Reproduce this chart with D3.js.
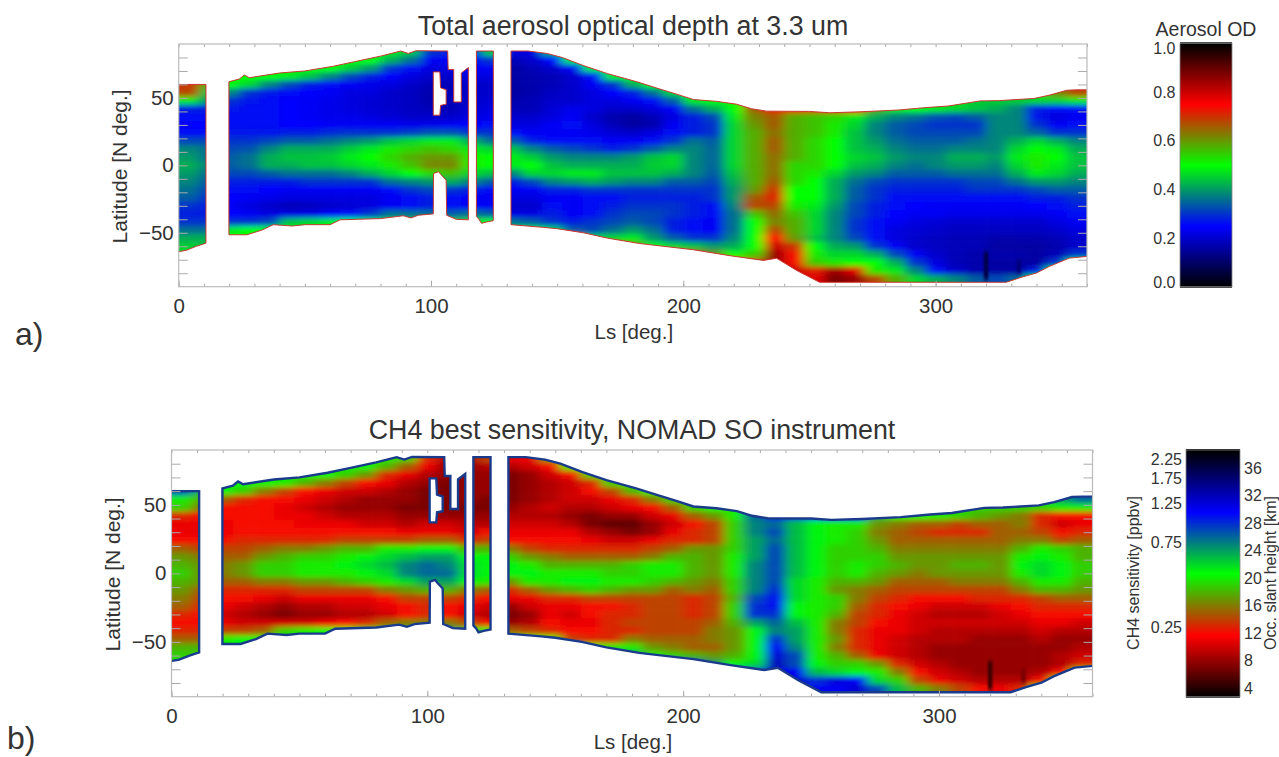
<!DOCTYPE html>
<html>
<head>
<meta charset="utf-8">
<style>
  body { margin: 0; background: #fff; }
  text { font-family: "Liberation Sans", Arial, sans-serif; fill: #333; }
</style>
<script src="https://cdn.jsdelivr.net/npm/d3@7"></script>
</head>
<body>
<svg id="chart" width="1279" height="757"></svg>
<script>
// grid centres
var lsCentres = [4,12,20,28,36, 44,52,60,68,76, 84,92,100,108,116, 124,132,140,148,156, 164,172,180,188,196, 204,212,220,228,236, 244,252,260,268,276, 284,292,300,308,316, 324,332,340,348,356];
var latCentres = [84,78,72,66,60,54,48,42,36,30,24,18,12,6,0,-6,-12,-18,-24,-30,-36,-42,-48,-54,-60,-66,-72,-78,-84];

// aerosol optical depth x 100, one row per latitude
var aerosolOD = [
  [70,60,50,50,50, 50,50,50,50,50, 48,44,30,28,28, 45,22,22,42,48, 50,50,50,50,50, 50,50,52,68,76, 76,78,78,76,60, 52,50,48,48,45, 45,45,52,65,70],
  [70,60,50,50,50, 50,50,50,50,50, 42,36,24,24,26, 30,18,20,25,48, 50,50,50,50,50, 50,50,52,68,76, 76,78,78,76,60, 52,50,48,48,45, 45,45,52,65,70],
  [70,60,50,50,50, 50,50,50,45,40, 30,26,22,22,24, 24,16,18,20,24, 48,50,50,50,50, 50,50,52,68,76, 76,78,78,76,60, 52,50,48,48,45, 45,45,52,65,70],
  [70,60,50,50,50, 48,44,38,32,28, 25,22,20,20,22, 22,16,17,18,20, 26,48,50,50,50, 50,50,52,68,76, 76,78,78,76,60, 52,50,48,48,45, 45,45,52,65,70],
  [70,58,50,46,38, 32,28,26,24,23, 22,20,18,18,20, 20,16,17,18,20, 24,30,42,50,50, 50,50,52,68,76, 76,78,78,76,60, 52,50,48,48,45, 45,45,52,65,70],
  [68,44,38,30,27, 26,25,24,22,22, 20,19,17,18,20, 20,16,17,19,20, 22,25,28,36,46, 50,50,52,68,76, 76,78,78,76,60, 52,50,48,48,45, 45,45,50,62,68],
  [48,40,30,27,26, 25,24,23,22,21, 20,19,17,18,20, 21,17,18,20,20, 22,22,24,26,34, 48,50,52,68,76, 76,78,78,76,60, 52,50,48,48,45, 45,45,46,46,48],
  [28,28,27,26,26, 25,24,23,22,21, 20,19,18,18,21, 22,18,18,21,23, 22,20,20,22,24, 36,42,50,66,76, 76,78,78,76,58, 52,50,48,46,44, 42,38,28,26,26],
  [26,26,26,26,26, 25,24,23,23,22, 21,20,20,20,22, 23,20,20,22,24, 20,17,16,18,22, 28,32,48,62,66, 58,56,54,48,42, 38,36,33,32,34, 38,38,27,22,24],
  [25,25,26,26,26, 25,25,24,24,24, 24,23,23,24,25, 26,22,22,24,26, 22,18,16,17,24, 28,30,46,60,66, 58,56,52,46,38, 34,32,30,30,30, 38,38,30,24,26],
  [26,26,27,27,27, 28,28,29,30,30, 30,31,33,33,30, 30,26,24,24,24, 23,21,20,22,26, 28,30,46,58,64, 58,56,52,44,38, 34,32,32,32,32, 38,38,35,30,30],
  [32,32,30,30,32, 34,34,36,38,40, 44,46,48,48,42, 36,34,28,26,26, 26,24,24,26,30, 36,34,46,58,66, 58,54,50,44,40, 36,34,34,34,36, 38,42,46,42,38],
  [38,36,32,33,38, 42,42,42,45,48, 52,54,56,54,48, 46,44,38,34,32, 30,28,30,34,38, 38,35,46,58,66, 58,54,50,44,42, 38,36,36,38,38, 38,46,50,48,42],
  [40,36,34,36,42, 44,44,45,48,50, 54,58,60,60,52, 50,48,45,40,38, 38,38,40,44,46, 38,35,46,58,64, 58,54,50,46,44, 40,38,38,42,42, 40,48,52,50,44],
  [42,38,34,36,42, 42,44,44,46,48, 52,56,62,62,52, 50,48,50,44,42, 42,42,42,45,46, 38,35,46,58,64, 54,54,50,44,42, 38,36,38,40,40, 38,46,52,48,44],
  [40,36,32,32,34, 36,36,36,38,42, 46,50,54,56,46, 44,38,46,46,48, 48,44,44,44,42, 38,34,44,58,64, 54,52,46,40,38, 34,34,34,36,36, 36,42,48,46,42],
  [38,34,28,28,28, 28,30,30,30,30, 36,38,40,42,38, 34,28,32,38,40, 42,40,38,38,34, 34,32,42,58,66, 54,50,42,36,32, 30,30,30,30,32, 32,36,40,40,38],
  [36,32,26,26,25, 24,24,24,24,24, 26,30,32,30,28, 26,24,24,28,28, 30,30,30,30,30, 30,30,40,60,70, 50,50,42,34,30, 28,28,28,28,30, 30,30,32,34,34],
  [34,30,25,24,23, 22,22,22,22,22, 24,26,28,26,24, 24,22,22,24,24, 26,26,28,28,28, 28,30,40,66,72, 50,50,42,34,30, 26,26,26,26,26, 26,26,28,28,30],
  [30,28,24,22,20, 18,19,20,21,22, 24,26,28,26,24, 24,20,20,26,24, 26,28,30,30,30, 28,26,38,68,68, 52,48,40,32,28, 26,25,24,24,24, 24,24,25,26,28],
  [28,28,25,24,22, 22,22,24,26,30, 36,36,36,34,36, 34,22,22,28,24, 26,30,32,32,30, 28,26,36,56,64, 56,46,38,32,28, 25,24,24,23,23, 23,23,23,24,26],
  [30,30,30,30,32, 44,46,48,50,52, 54,56,58,55,54, 50,36,34,30,28, 30,32,34,32,28, 26,24,36,50,62, 58,46,38,30,26, 24,22,21,20,20, 20,20,20,22,24],
  [36,36,48,50,50, 50,50,50,52,52, 54,56,58,55,54, 52,52,52,46,34, 32,36,40,36,28, 26,24,36,50,68, 58,46,38,30,26, 22,21,20,19,19, 19,19,19,20,22],
  [42,42,50,50,50, 50,50,50,52,52, 54,56,58,55,54, 52,52,55,64,70, 46,46,48,40,34, 30,30,38,50,75, 60,44,38,32,26, 22,20,19,18,18, 17,17,17,18,20],
  [45,44,50,50,50, 50,50,50,52,52, 54,56,58,55,54, 52,52,55,64,72, 70,68,60,50,46, 44,40,42,50,80, 70,50,42,40,30, 24,20,19,18,18, 16,16,16,17,20],
  [48,44,50,50,50, 50,50,50,52,52, 54,56,58,55,54, 52,52,55,64,72, 70,68,66,70,70, 66,60,50,55,85, 74,52,46,46,42, 32,24,20,18,17, 17,17,16,18,30],
  [48,44,50,50,50, 50,50,50,52,52, 54,56,58,55,54, 52,52,55,64,72, 70,68,66,70,70, 66,66,68,70,85, 74,55,52,50,50, 42,30,22,18,17, 16,16,16,30,50],
  [48,44,50,50,50, 50,50,50,52,52, 54,56,58,55,54, 52,52,55,64,72, 70,68,66,70,70, 66,66,68,70,85, 80,72,84,78,52, 48,38,26,20,17, 16,16,28,50,60],
  [48,44,50,50,50, 50,50,50,52,52, 54,56,58,55,54, 52,52,55,64,72, 70,68,66,70,70, 66,66,68,70,85, 80,78,88,85,68, 58,46,42,38,34, 32,35,50,60,60]
];

// occultation slant height in km, same grid
var slantHeight = [
  [28,24,21,21,21, 21,21,21,21,21, 20,19,13,9,9, 14,11,11,17,20, 21,21,21,21,21, 21,21,21,27,29, 29,30,30,29,24, 21,21,20,20,19, 19,19,22,27,28],
  [28,24,21,21,21, 21,21,21,21,21, 18,15,11,8,8, 9,9,10,12,20, 21,21,21,21,21, 21,21,21,27,29, 29,30,30,29,24, 21,21,20,20,19, 19,19,22,27,28],
  [28,24,21,21,21, 21,21,21,19,17, 13,11,9,8,8, 8,7,8,10,12, 19,21,21,21,21, 21,21,21,27,29, 29,30,30,29,24, 21,21,20,20,19, 19,19,22,27,28],
  [28,24,21,21,21, 20,18,16,14,12, 11,9,8,7,8, 8,7,8,9,10, 13,19,21,21,21, 21,21,21,27,29, 29,30,30,29,24, 21,21,20,20,19, 19,19,22,27,28],
  [27,23,21,19,16, 14,12,11,10,10, 9,8,7,7,8, 8,7,8,9,10, 12,14,18,21,21, 21,21,21,27,29, 29,30,30,29,24, 21,21,20,20,19, 19,19,22,27,28],
  [20,18,15,13,12, 12,11,10,9,8, 8,8,7,7,8, 7,7,8,9,10, 10,11,13,16,19, 21,21,21,27,29, 29,30,30,29,24, 21,21,20,20,19, 19,19,21,24,26],
  [19,16,12,12,12, 11,10,9,8,8, 8,7,7,7,7, 7,8,9,10,9, 9,10,11,12,15, 19,21,21,27,29, 29,30,30,29,24, 21,21,20,20,19, 19,19,19,20,20],
  [13,12,12,12,12, 11,11,10,9,9, 9,8,8,8,8, 8,9,9,9,8, 7,8,8,10,11, 15,17,20,26,29, 29,30,30,29,23, 21,21,20,19,18, 17,16,13,12,12],
  [11,11,11,12,12, 12,11,11,11,10, 10,9,10,10,9, 9,10,10,10,9, 7,6,6,8,10, 12,14,19,25,26, 23,21,20,20,17, 16,15,15,14,15, 15,16,13,10,11],
  [11,11,11,12,12, 12,12,12,12,12, 12,11,11,11,10, 12,11,11,11,11, 9,8,7,8,11, 13,14,19,25,27, 23,21,20,19,16, 15,14,13,13,13, 15,15,14,12,13],
  [12,12,12,13,13, 13,13,13,14,14, 14,14,15,15,13, 14,12,12,12,12, 11,10,10,11,13, 13,14,19,24,26, 23,21,20,19,17, 15,15,15,15,15, 15,16,16,14,15],
  [15,14,14,14,15, 16,16,17,18,18, 20,20,21,21,18, 18,16,14,13,13, 13,13,13,14,15, 17,17,19,24,27, 23,21,19,19,18, 16,16,16,16,16, 16,18,20,19,18],
  [17,16,15,15,17, 18,19,19,20,21, 22,23,24,24,21, 21,19,17,16,15, 15,15,15,16,18, 18,17,20,24,27, 23,21,19,19,19, 17,17,17,17,17, 17,20,21,20,18],
  [18,17,16,17,19, 19,20,20,21,22, 23,25,26,25,22, 21,21,20,18,18, 18,18,19,20,20, 18,17,20,25,27, 23,21,19,20,19, 18,17,17,18,18, 17,21,22,21,19],
  [19,17,16,17,19, 19,20,20,20,21, 22,25,26,26,22, 21,21,21,20,20, 20,19,19,20,20, 18,17,20,25,27, 23,21,19,20,18, 17,16,17,17,17, 17,20,22,21,19],
  [18,17,15,15,16, 16,17,17,18,19, 20,22,24,24,21, 20,17,20,20,21, 21,20,20,19,18, 17,16,19,25,27, 22,20,18,18,17, 15,15,15,16,16, 16,18,20,20,18],
  [17,15,13,13,13, 13,14,14,14,14, 16,17,18,18,16, 15,13,15,17,18, 19,18,17,17,15, 16,15,19,25,28, 22,20,17,16,15, 14,14,14,14,14, 14,16,18,18,17],
  [16,14,12,12,11, 10,11,11,11,11, 12,14,14,14,13, 12,11,11,13,13, 14,14,14,14,14, 13,14,18,27,29, 22,20,19,16,14, 13,12,12,12,13, 13,13,14,15,15],
  [15,13,11,10,9, 8,9,9,10,10, 11,12,13,12,11, 10,8,10,11,11, 12,12,13,14,14, 13,14,19,28,29, 21,20,19,15,13, 12,11,10,10,10, 11,12,13,13,13],
  [13,12,10,9,8, 7,8,8,9,9, 10,12,13,12,10, 9,7,8,11,10, 12,13,13,14,14, 13,14,19,28,28, 21,20,18,14,13, 11,10,9,9,9, 10,11,12,12,12],
  [12,12,11,10,10, 10,10,11,12,13, 15,16,16,16,14, 12,8,9,12,11, 11,13,14,14,14, 14,15,18,24,26, 23,20,16,14,12, 11,10,10,10,10, 10,10,11,11,10],
  [13,13,14,14,15, 19,20,21,21,22, 22,23,24,24,22, 21,15,14,13,12, 12,13,13,14,14, 14,16,17,21,25, 24,20,16,13,11, 11,10,9,9,9, 9,9,10,9,9],
  [15,15,20,21,21, 21,21,21,22,22, 23,24,24,24,22, 22,21,21,20,14, 13,13,16,15,15, 15,16,17,21,28, 24,20,17,13,11, 10,9,9,9,8, 8,8,9,8,8],
  [18,18,21,21,21, 21,21,21,22,22, 23,24,24,24,22, 22,22,23,25,27, 21,20,20,17,16, 15,15,17,21,30, 25,20,16,13,11, 10,9,8,8,8, 8,8,8,8,9],
  [19,19,21,21,21, 21,21,21,22,22, 23,24,24,24,22, 22,22,23,25,28, 27,26,24,21,19, 18,17,18,21,31, 27,20,18,15,11, 10,9,8,8,8, 8,8,8,9,10],
  [20,19,21,21,21, 21,21,21,22,22, 23,24,24,24,22, 22,22,23,25,28, 28,27,26,28,28, 27,24,21,22,32, 27,21,19,19,17, 13,10,9,8,8, 8,8,8,9,13],
  [20,19,21,21,21, 21,21,21,22,22, 23,24,24,24,22, 22,22,23,25,28, 28,27,26,28,28, 27,27,27,28,31, 30,23,22,21,20, 16,12,10,9,8, 8,8,9,12,20],
  [20,19,21,21,21, 21,21,21,22,22, 23,24,24,24,22, 22,22,23,25,28, 28,27,26,28,28, 27,27,27,28,31, 31,28,31,30,22, 19,14,11,10,9, 9,9,12,20,24],
  [20,19,21,21,21, 21,21,21,22,22, 23,24,24,24,22, 22,22,23,25,28, 28,27,26,28,28, 27,27,27,28,31, 31,30,30,31,27, 23,18,16,14,12, 11,13,20,24,24]
];

// narrow dark streaks near the southern edge
var streakLs = [320, 333];
var streakLatTop = [-64, -70];
var streakLatBottom = [-85, -80];
var streakOD = [0.07, 0.12];
var streakHeight = [5, 7];

// observed coverage outlines, [Ls, latitude]
var coverage1 = [[-3,60],[10.8,60],[10.8,-57.7],[7,-60],[3,-63],[-3,-65]];
var coverage2 = [[19.9,-51.5],[19.9,62],[24,64],[26,67],[28,65],[40,68.5],[50,70],[61,73.4],[70,77],[80,81],[88,84.8],[91,83],[94,85],[106.6,84.8],[106.8,71],[109,71],[109,47],[112,47],[112,68.5],[114.8,72.5],[114.8,-40.4],[110,-40],[106.2,-37],[106,-11],[104,-7],[103,-4.7],[101,-6],[100.9,-36],[95,-37],[92,-39],[89,-37.4],[80,-39.5],[64,-40.4],[60,-44],[50,-44],[45,-45],[37.5,-44],[33,-48],[27,-51.5]];
var coverageHole = [[100.9,69.3],[103.5,69.3],[103.8,57.5],[106,56],[106,45.3],[103.8,44.5],[103.5,37.2],[100.9,37.2]];
var coverage3 = [[118,84.8],[124.7,84.8],[124.7,-41],[122,-42],[120,-43],[119,-40],[118,-38]];
var coverage4 = [[131.7,-44],[131.7,84.8],[138.5,84.8],[146,83],[152,80],[160.4,74],[170,68],[181.6,62],[190,57],[197,53],[204,48.8],[213,47.5],[221,45.4],[227,42],[233,40.2],[250,40],[258,39],[270,39.7],[285,41],[296.6,42.9],[305,44],[317.7,47.8],[325,48],[339,49.6],[345,52],[352,55.7],[356,56],[363,56],[363,-67],[353,-68.8],[345,-75],[340,-79.8],[334,-83],[328,-86.7],[254,-86.7],[245,-78],[237,-68.9],[231.7,-70.5],[218.5,-67],[204,-62.6],[182.8,-58],[170,-54],[160.4,-50],[150,-47],[144.5,-46]];

var odTicks = [0, 0.2, 0.4, 0.6, 0.8, 1.0];
var heightTicks = [4, 8, 12, 16, 20, 24, 28, 32, 36];
var sensitivityTicks = ["2.25", "1.75", "1.25", "0.75", "0.25"];
var sensitivityAtHeight = [37.3, 34.5, 30.9, 25.2, 12.8]; // km on the same bar

var svg = d3.select("#chart");
var outlines = [coverage1, coverage2, coverageHole, coverage3, coverage4];

var odColor = d3.scaleLinear()
  .domain([0, 0.25, 0.5, 0.75, 1])
  .range(["#000000", "#0000ff", "#00ff00", "#ff0000", "#000000"]);

var heightColor = d3.scaleLinear()
  .domain([2.7, 11.7, 20.65, 29.6, 38.6])
  .range(["#000000", "#ff0000", "#00ff00", "#0000ff", "#000000"]);

var drawPanel = function(p) {
  var x = d3.scaleLinear().domain([0, 360]).range([p.left, p.right]);
  var y = d3.scaleLinear().domain([-90, 90]).range([p.bottom, p.top]);

  var line = d3.line()
    .x(function(d) { return x(d[0]); })
    .y(function(d) { return y(d[1]); });
  var outlinePath = outlines.map(function(o) { return line(o) + "Z"; }).join("");

  var defs = svg.append("defs");
  defs.append("clipPath").attr("id", p.id + "-coverage")
    .append("path").attr("d", outlinePath).attr("clip-rule", "evenodd");
  defs.append("clipPath").attr("id", p.id + "-plot")
    .append("rect")
    .attr("x", p.left).attr("y", p.top)
    .attr("width", p.right - p.left).attr("height", p.bottom - p.top);
  defs.append("filter").attr("id", p.id + "-blur")
    .attr("filterUnits", "userSpaceOnUse")
    .attr("x", 0).attr("y", 0).attr("width", 1279).attr("height", 757)
    .append("feGaussianBlur").attr("stdDeviation", "5.5 2.8");
  defs.append("filter").attr("id", p.id + "-soft")
    .attr("filterUnits", "userSpaceOnUse")
    .attr("x", 0).attr("y", 0).attr("width", 1279).attr("height", 757)
    .append("feGaussianBlur").attr("stdDeviation", "1 2");

  // grid cells, blurred and cut to the observed coverage
  var plotArea = svg.append("g").attr("clip-path", "url(#" + p.id + "-plot)");
  var covered = plotArea.append("g").attr("clip-path", "url(#" + p.id + "-coverage)");
  var cells = covered.append("g").attr("filter", "url(#" + p.id + "-blur)");

  p.grid.forEach(function(row, r) {
    cells.selectAll("rect.row" + r)
      .data(row)
      .enter().append("rect")
      .attr("class", "row" + r)
      .attr("x", function(d, i) { return x(lsCentres[i] - 4 - (i === 0 ? 30 : 0)); })
      .attr("width", function(d, i) {
        var extra = (i === 0 || i === row.length - 1) ? 30 : 0;
        return x(8 + extra) - x(0) + 0.5;
      })
      .attr("y", y(latCentres[r] + 3 + (r === 0 ? 15 : 0)))
      .attr("height", y(0) - y(6 + ((r === 0 || r === p.grid.length - 1) ? 15 : 0)) + 0.5)
      .attr("fill", function(d) { return p.color(d); });
  });

  covered.append("g").attr("filter", "url(#" + p.id + "-soft)")
    .selectAll("rect")
    .data(streakLs)
    .enter().append("rect")
    .attr("x", function(d) { return x(d - 0.9); })
    .attr("width", x(1.8) - x(0))
    .attr("y", function(d, i) { return y(streakLatTop[i]); })
    .attr("height", function(d, i) { return y(streakLatBottom[i]) - y(streakLatTop[i]); })
    .attr("fill", function(d, i) { return p.color(p.streaks[i]); });

  plotArea.append("path")
    .attr("d", outlinePath)
    .attr("fill", "none")
    .attr("stroke", p.rim)
    .attr("stroke-width", p.rimWidth);

  // frame and ticks
  var lsMinor = d3.range(0, 361, 10);
  var latMinor = d3.range(-80, 81, 10);
  var addAxis = function(axis, tx, ty) {
    var g = svg.append("g").attr("transform", "translate(" + tx + "," + ty + ")").call(axis);
    g.select(".domain").remove();
    g.selectAll("line").attr("stroke", "#aaa");
    g.selectAll("text").attr("font-size", 20.5).attr("fill", "#333").style("font-family", '"Liberation Sans", Arial, sans-serif');
    return g;
  };
  addAxis(d3.axisBottom(x).tickValues(lsMinor).tickSize(-3).tickFormat(""), 0, p.bottom);
  addAxis(d3.axisTop(x).tickValues(lsMinor).tickSize(-3).tickFormat(""), 0, p.top);
  addAxis(d3.axisBottom(x).tickValues([0, 100, 200, 300]).tickSize(-6).tickPadding(12).tickFormat(d3.format("d")), 0, p.bottom);
  addAxis(d3.axisLeft(y).tickValues(latMinor).tickSize(-9).tickFormat(""), p.left, 0);
  addAxis(d3.axisRight(y).tickValues(latMinor).tickSize(-9).tickFormat(""), p.right, 0);
  addAxis(d3.axisLeft(y).tickValues([-50, 0, 50]).tickSize(0).tickPadding(5).tickFormat(d3.format("d")), p.left, 0);

  svg.append("rect")
    .attr("x", p.left).attr("y", p.top)
    .attr("width", p.right - p.left).attr("height", p.bottom - p.top)
    .attr("fill", "none").attr("stroke", "#bbb").attr("stroke-width", 1.2);

  svg.append("text").text(p.title)
    .attr("x", p.titleX).attr("y", p.titleY)
    .attr("text-anchor", "middle").attr("font-size", 26.8);

  svg.append("text").text("Ls [deg.]")
    .attr("x", (p.left + p.right) / 2 + p.lsLabelShift).attr("y", p.bottom + 52)
    .attr("text-anchor", "middle").attr("font-size", 20.5);

  svg.append("text").text("Latitude [N deg.]")
    .attr("transform", "translate(" + (p.left - 52) + "," + ((p.top + p.bottom) / 2 + 1) + ") rotate(-90)")
    .attr("text-anchor", "middle").attr("font-size", 21);

  svg.append("text").text(p.tag)
    .attr("x", p.tagX).attr("y", p.tagY).attr("font-size", 32);
};

var drawColorbar = function(c) {
  var y = d3.scaleLinear().domain(c.domain).range([c.bottom, c.top]);
  var steps = d3.range(0, 244);
  var stepValue = d3.scaleLinear().domain([0, 243]).range(c.domain);
  svg.append("g").selectAll("rect")
    .data(steps)
    .enter().append("rect")
    .attr("x", c.left)
    .attr("width", c.right - c.left)
    .attr("y", function(d) { return y(stepValue(d)) - 1; })
    .attr("height", 2)
    .attr("fill", function(d) { return c.color(stepValue(d)); });
  svg.append("rect")
    .attr("x", c.left).attr("y", c.top)
    .attr("width", c.right - c.left).attr("height", c.bottom - c.top)
    .attr("fill", "none").attr("stroke", "#888").attr("stroke-width", 0.8);
};

drawPanel({
  id: "a", left: 178.7, right: 1087, top: 44, bottom: 286.7,
  grid: aerosolOD.map(function(row) { return row.map(function(v) { return v / 100; }); }),
  color: odColor, rim: "#c8372f", rimWidth: 1, streaks: streakOD,
  title: "Total aerosol optical depth at 3.3 um", titleX: 633, titleY: 35,
  lsLabelShift: 1, tag: "a)", tagX: 15, tagY: 345
});

drawPanel({
  id: "b", left: 171.5, right: 1092.5, top: 450, bottom: 696.7,
  grid: slantHeight,
  color: heightColor, rim: "#1a3a8c", rimWidth: 2.4, streaks: streakHeight,
  title: "CH4 best sensitivity, NOMAD SO instrument", titleX: 632, titleY: 439,
  lsLabelShift: 1, tag: "b)", tagX: 7, tagY: 749
});

// colour bar a
drawColorbar({ left: 1180, right: 1232, top: 43.3, bottom: 286.7, domain: [0, 1], color: odColor });
var barA = d3.scaleLinear().domain([0, 1]).range([286.7, 43.3]);
svg.append("g").selectAll("text")
  .data(odTicks)
  .enter().append("text")
  .text(function(d) { return d3.format(".1f")(d); })
  .attr("x", 1175.5)
  .attr("y", function(d) { return Math.max(Math.min(barA(d), 282), 48); })
  .attr("dy", "0.36em")
  .attr("text-anchor", "end")
  .attr("font-size", 16);
svg.append("text").text("Aerosol OD")
  .attr("x", 1206).attr("y", 36)
  .attr("text-anchor", "middle").attr("font-size", 19.5);

// colour bar b
var barBDomain = [2.7, 38.6];
drawColorbar({ left: 1186, right: 1240, top: 450, bottom: 696.7, domain: barBDomain, color: heightColor });
var barB = d3.scaleLinear().domain(barBDomain).range([696.7, 450]);
svg.append("g").selectAll("text")
  .data(heightTicks)
  .enter().append("text")
  .text(function(d) { return d; })
  .attr("x", 1244)
  .attr("y", function(d) { return barB(d); })
  .attr("dy", "0.36em")
  .attr("font-size", 16);
svg.append("g").selectAll("text")
  .data(sensitivityTicks)
  .enter().append("text")
  .text(function(d) { return d; })
  .attr("x", 1182)
  .attr("y", function(d, i) { return barB(sensitivityAtHeight[i]); })
  .attr("dy", "0.36em")
  .attr("text-anchor", "end")
  .attr("font-size", 16);
svg.append("text").text("CH4 sensitivity [ppbv]")
  .attr("transform", "translate(1139,573) rotate(-90)")
  .attr("text-anchor", "middle").attr("font-size", 16);
svg.append("text").text("Occ. slant height [km]")
  .attr("transform", "translate(1276,573) rotate(-90)")
  .attr("text-anchor", "middle").attr("font-size", 16);
</script>
</body>
</html>
